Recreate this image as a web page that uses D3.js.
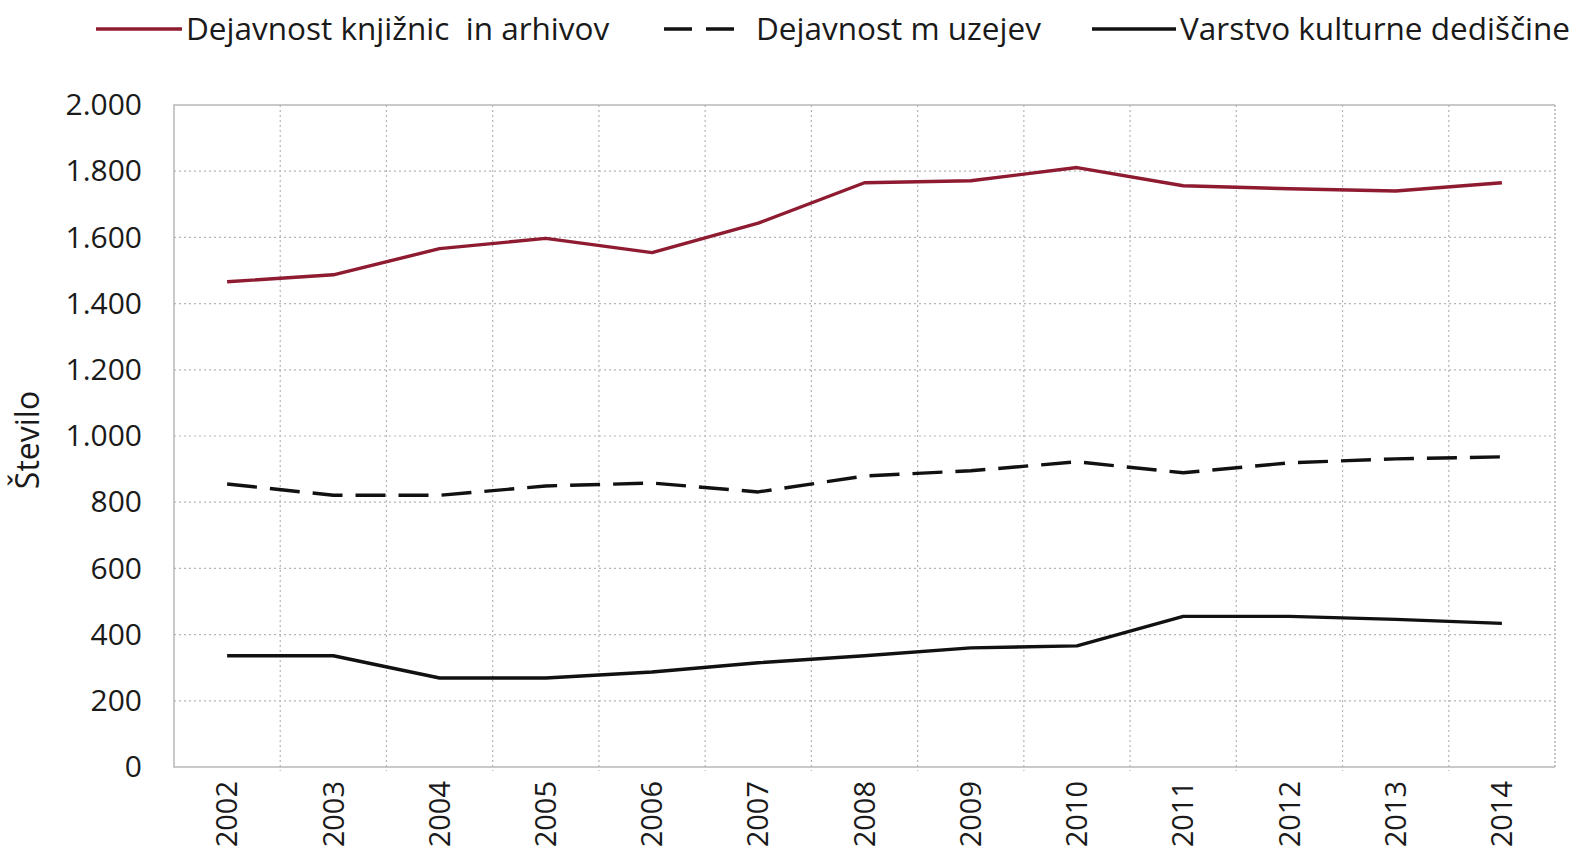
<!DOCTYPE html>
<html>
<head>
<meta charset="utf-8">
<script src="https://cdn.jsdelivr.net/npm/d3@7"></script>
<style>
  html, body { margin: 0; padding: 0; background: #fff; overflow: hidden; }
  text { font-family: "Open Sans", sans-serif; fill: #1a1a1a; }
</style>
</head>
<body>
<div id="chart"></div>
<script>
// Data
const years = ['2002', '2003', '2004', '2005', '2006', '2007', '2008', '2009', '2010', '2011', '2012', '2013', '2014'];
const knjiznice = [1466, 1487, 1566, 1597, 1554, 1643, 1765, 1771, 1811, 1756, 1747, 1740, 1765];
const muzeji = [855, 821, 821, 849, 858, 831, 879, 895, 922, 889, 919, 931, 937];
const dediscina = [336, 336, 269, 269, 287, 315, 336, 360, 366, 455, 455, 446, 434];
const yTicks = [0, 200, 400, 600, 800, 1000, 1200, 1400, 1600, 1800, 2000];

const series = [
  { name: 'Dejavnost knjižnic  in arhivov', values: knjiznice, color: '#8e1b30', dash: null },
  { name: 'Dejavnost m uzejev', values: muzeji, color: '#111', dash: '30,13' },
  { name: 'Varstvo kulturne dediščine', values: dediscina, color: '#111', dash: null }
];

const width = 1585;
const height = 857;
const margins = { top: 105, right: 30, bottom: 90, left: 174 };
const innerWidth = width - margins.left - margins.right;
const innerHeight = height - margins.top - margins.bottom;

const svg = d3.select('#chart').append('svg')
  .attr('width', width)
  .attr('height', height)
  .style('display', 'block');

const plot = svg.append('g')
  .attr('transform', `translate(${margins.left}, ${margins.top})`);

const x = d3.scaleBand().domain(years).range([0, innerWidth]);
const y = d3.scaleLinear().domain([0, 2000]).range([innerHeight, 0]);

// Dotted grid
plot.append('g')
  .selectAll('line')
  .data(yTicks.slice(1, -1))
  .join('line')
  .attr('x1', 0)
  .attr('x2', innerWidth)
  .attr('y1', d => y(d))
  .attr('y2', d => y(d))
  .attr('stroke', '#b5b5b5')
  .attr('stroke-width', 1.2)
  .attr('stroke-dasharray', '2,3');

plot.append('g')
  .selectAll('line')
  .data(years.slice(1))
  .join('line')
  .attr('x1', d => x(d))
  .attr('x2', d => x(d))
  .attr('y1', 0)
  .attr('y2', innerHeight + 4)
  .attr('stroke', '#b5b5b5')
  .attr('stroke-width', 1.2)
  .attr('stroke-dasharray', '2,3');

// Frame
plot.append('line')
  .attr('x1', innerWidth).attr('x2', innerWidth)
  .attr('y1', 0).attr('y2', innerHeight)
  .attr('stroke', '#b5b5b5').attr('stroke-width', 1.5)
  .attr('stroke-dasharray', '2,2');
plot.append('path')
  .attr('d', `M${innerWidth},0H0V${innerHeight}H${innerWidth}`)
  .attr('fill', 'none')
  .attr('stroke', '#b8b8b8')
  .attr('stroke-width', 1.5);

// Y axis
const yAxis = plot.append('g')
  .call(d3.axisLeft(y)
    .tickValues(yTicks)
    .tickSize(0)
    .tickPadding(32)
    .tickFormat(d => d3.format(',')(d).replace(/,/g, '.')));
yAxis.select('.domain').remove();
yAxis.selectAll('text')
  .attr('font-size', 30)
  .attr('font-family', '"Open Sans", sans-serif')
  .attr('fill', '#1a1a1a');

// X axis
const xAxis = plot.append('g')
  .attr('transform', `translate(0, ${innerHeight})`)
  .call(d3.axisBottom(x).tickSize(0).tickPadding(0));
xAxis.select('.domain').remove();
xAxis.selectAll('text')
  .attr('font-size', 29)
  .attr('font-family', '"Open Sans", sans-serif')
  .attr('fill', '#1a1a1a')
  .attr('text-anchor', 'end')
  .attr('dy', '0.35em')
  .attr('transform', 'translate(0, 14) rotate(-90)');

// Y axis title
svg.append('text')
  .attr('transform', `translate(39, 440) rotate(-90)`)
  .attr('text-anchor', 'middle')
  .attr('font-size', 32)
  .text('Število');

// Lines
const line = d3.line()
  .x((d, i) => x(years[i]) + x.bandwidth() / 2)
  .y(d => y(d));

plot.append('g')
  .selectAll('path')
  .data(series)
  .join('path')
  .attr('d', s => line(s.values))
  .attr('fill', 'none')
  .attr('stroke', s => s.color)
  .attr('stroke-width', 3.4)
  .attr('stroke-linejoin', 'round')
  .attr('stroke-dasharray', s => s.dash);

// Legend
const legendPos = [
  { x1: 96, x2: 182, tx: 186 },
  { x1: 664, x2: 745, tx: 756 },
  { x1: 1092, x2: 1176, tx: 1180 }
];
const legend = svg.append('g')
  .selectAll('g')
  .data(series)
  .join('g');

legend.append('line')
  .attr('x1', (s, i) => legendPos[i].x1)
  .attr('x2', (s, i) => legendPos[i].x2)
  .attr('y1', 29)
  .attr('y2', 29)
  .attr('stroke', s => s.color)
  .attr('stroke-width', 3.4)
  .attr('stroke-dasharray', s => s.dash ? '28,14' : null);

legend.append('text')
  .attr('x', (s, i) => legendPos[i].tx)
  .attr('y', 29)
  .attr('dy', '0.35em')
  .attr('font-size', 31.5)
  .attr('xml:space', 'preserve')
  .style('white-space', 'pre')
  .text(s => s.name);
</script>
</body>
</html>
